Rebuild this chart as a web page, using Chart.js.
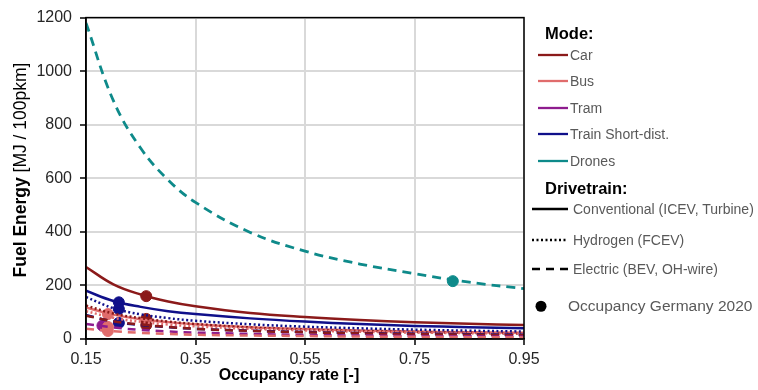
<!DOCTYPE html>
<html>
<head>
<meta charset="utf-8">
<script src="https://cdn.jsdelivr.net/npm/chart.js@4/dist/chart.umd.min.js"></script>
<style>
  body { margin: 0; background: #fff; font-family: "Liberation Sans", Arial, sans-serif; }
  #wrap { position: relative; width: 758px; height: 390px; }
  #chart { position: absolute; left: 0; top: 0; }
  .lg { position: absolute; white-space: nowrap; line-height: 1; transform: translateY(-50%); display: flex; align-items: center; color: #595959; font-size: 14px; }
  .lg svg { display: block; }
  .head { color: #000; font-weight: bold; font-size: 16.5px; }
</style>
</head>
<body>
<div id="wrap">
  <canvas id="chart" width="758" height="390"></canvas>
  <div id="legend"></div>
</div>
<script>
const occupancy = [0.15, 0.2, 0.25, 0.3, 0.35, 0.45, 0.55, 0.65, 0.75, 0.85, 0.95];
const xTicks = [0.15, 0.35, 0.55, 0.75, 0.95];
const yTicks = [0, 200, 400, 600, 800, 1000, 1200];

const modes = ["Car", "Bus", "Tram", "Train Short-dist.", "Drones"];
const modeColors = ["#8b1a1a", "#e06c6c", "#8e1c8e", "#10108a", "#0e8a8a"];
const drivetrains = ["Conventional (ICEV, Turbine)", "Hydrogen (FCEV)", "Electric (BEV, OH-wire)"];

// fuel energy [MJ / 100pkm]
const carConventional = [269, 204, 166, 140, 122, 97, 82, 71, 63, 57, 52];
const carHydrogen     = [125, 95, 78, 65, 56, 43, 35, 30, 26, 23, 20];
const carElectric     = [87, 66, 54, 45, 38, 30, 25, 21, 18, 16, 14];
const busConventional = [118, 91, 74, 63, 55, 44, 37, 32, 28, 25, 23];
const busHydrogen     = [104, 79, 64, 54, 47, 38, 32, 27, 24, 22, 20];
const busElectric     = [38, 29, 23, 19, 16, 13, 11, 9, 8, 7, 6];
const tramElectric    = [56, 43, 34, 28, 24, 19, 15, 13, 11, 10, 9];
const trainConventional = [180, 142, 120, 104, 93, 77, 65, 56, 49, 44, 40];
const trainHydrogen   = [157, 115, 92, 78, 68, 55, 46, 40, 35, 31, 28];
const trainElectric   = [90, 65, 52, 44, 38, 31, 26, 22, 20, 18, 16];
const dronesElectric  = [1180, 890, 712, 594, 510, 398, 328, 280, 244, 212, 188];

// occupancy Germany 2020 markers
const pointOcc  = [0.26, 0.26, 0.26, 0.19, 0.19, 0.19, 0.18, 0.21, 0.21, 0.21, 0.82];
const pointFuel = [160, 75, 52, 93, 45, 30, 50, 137, 112, 60, 216];
const pointMode = [0, 0, 0, 1, 1, 1, 2, 3, 3, 3, 4];

const dashes = { solid: [], dotted: [2, 2.5], dashed: [8, 6] };

const lines = [
  [1, "dashed", busElectric],
  [2, "dashed", tramElectric],
  [0, "dashed", carElectric],
  [3, "dashed", trainElectric],
  [1, "dotted", busHydrogen],
  [0, "dotted", carHydrogen],
  [3, "dotted", trainHydrogen],
  [1, "solid", busConventional],
  [3, "solid", trainConventional],
  [0, "solid", carConventional],
  [4, "dashed", dronesElectric]
];

const FONT = '"Liberation Sans", Arial, sans-serif';

const datasets = lines.map(([m, style, vals]) => ({
  data: vals.map((v, i) => ({ x: occupancy[i], y: v })),
  showLine: true,
  borderColor: modeColors[m],
  borderWidth: m === 4 ? 2.8 : 2.5,
  borderDash: m === 4 ? [9, 6] : dashes[style],
  pointRadius: 0,
  tension: 0.4
}));

pointFuel.forEach((v, i) => {
  datasets.push({
    data: [{ x: pointOcc[i], y: v }],
    showLine: false,
    pointRadius: 5.5,
    pointBackgroundColor: modeColors[pointMode[i]],
    pointBorderColor: modeColors[pointMode[i]],
    pointBorderWidth: 1
  });
});

const frame = {
  id: "frame",
  afterDraw(chart) {
    const { ctx, chartArea: a } = chart;
    ctx.save();
    ctx.strokeStyle = "#000";
    ctx.lineWidth = 1.5;
    ctx.strokeRect(a.left, a.top, a.right - a.left, a.bottom - a.top);

    ctx.fillStyle = "#000";
    ctx.textBaseline = "middle";
    ctx.textAlign = "center";
    ctx.font = "bold 16px " + FONT;
    ctx.fillText("Occupancy rate [-]", 289, 376);

    // y title: bold + regular part, rotated
    ctx.translate(21, 170);
    ctx.rotate(-Math.PI / 2);
    ctx.textAlign = "left";
    const boldPart = "Fuel Energy ";
    const regPart = "[MJ / 100pkm]";
    ctx.font = "bold 17.5px " + FONT;
    const w1 = ctx.measureText(boldPart).width;
    ctx.font = "17.5px " + FONT;
    const w2 = ctx.measureText(regPart).width;
    const start = -(w1 + w2) / 2;
    ctx.font = "bold 17.5px " + FONT;
    ctx.fillText(boldPart, start, 0);
    ctx.font = "17.5px " + FONT;
    ctx.fillText(regPart, start + w1, 0);
    ctx.restore();
  }
};

new Chart(document.getElementById("chart"), {
  type: "scatter",
  data: { datasets },
  options: {
    responsive: false,
    animation: false,
    layout: { padding: { top: 17, right: 234, left: 0, bottom: 0 } },
    plugins: { legend: { display: false }, tooltip: { enabled: false } },
    scales: {
      x: {
        type: "linear",
        min: 0.15,
        max: 0.95,
        afterBuildTicks: s => { s.ticks = xTicks.map(v => ({ value: v })); },
        afterFit: s => { s.height = 51; },
        ticks: {
          callback: v => v.toFixed(2),
          font: { size: 16, family: FONT },
          color: "#262626",
          padding: 5,
          maxRotation: 0
        },
        grid: { color: "#d9d9d9", lineWidth: 2, tickColor: "#000", tickLength: 6, tickWidth: 1.5 },
        border: { color: "#000", width: 1.5 }
      },
      y: {
        min: 0,
        max: 1200,
        afterBuildTicks: s => { s.ticks = yTicks.map(v => ({ value: v })); },
        afterFit: s => { s.width = 86; },
        ticks: {
          callback: v => String(v),
          font: { size: 16, family: FONT },
          color: "#262626",
          padding: 8
        },
        grid: { color: "#d9d9d9", lineWidth: 2, tickColor: "#000", tickLength: 6, tickWidth: 1.5 },
        border: { color: "#000", width: 1.5 }
      }
    }
  },
  plugins: [frame]
});

// legend (HTML, to the right of the plot)
const legend = document.getElementById("legend");
function addItem(html, left, top, cls) {
  const d = document.createElement("div");
  d.className = "lg" + (cls ? " " + cls : "");
  d.style.left = left + "px";
  d.style.top = top + "px";
  d.innerHTML = html;
  legend.appendChild(d);
}
function sample(width, color, dash) {
  return `<svg width="${width}" height="4"><line x1="0" y1="2" x2="${width}" y2="2" stroke="${color}" stroke-width="2.3" stroke-dasharray="${dash.join(",")}"/></svg>`;
}

addItem("Mode:", 545, 33, "head");
const modeY = [55, 81, 108, 134, 161];
modes.forEach((m, i) => {
  addItem(sample(30, modeColors[i], []) + `<span style="margin-left:2px">${m}</span>`, 538, modeY[i]);
});
addItem("Drivetrain:", 545, 188, "head");
const dtY = [209, 240, 269];
const dtDash = [dashes.solid, dashes.dotted, dashes.dashed];
drivetrains.forEach((d, i) => {
  addItem(sample(36, "#000", dtDash[i]) + `<span style="margin-left:5px">${d}</span>`, 532, dtY[i]);
});
addItem(`<svg width="12" height="12"><circle cx="6" cy="6" r="5.5" fill="#000"/></svg><span style="margin-left:21px;font-size:15.5px">Occupancy Germany 2020</span>`, 535, 306);
</script>
</body>
</html>
